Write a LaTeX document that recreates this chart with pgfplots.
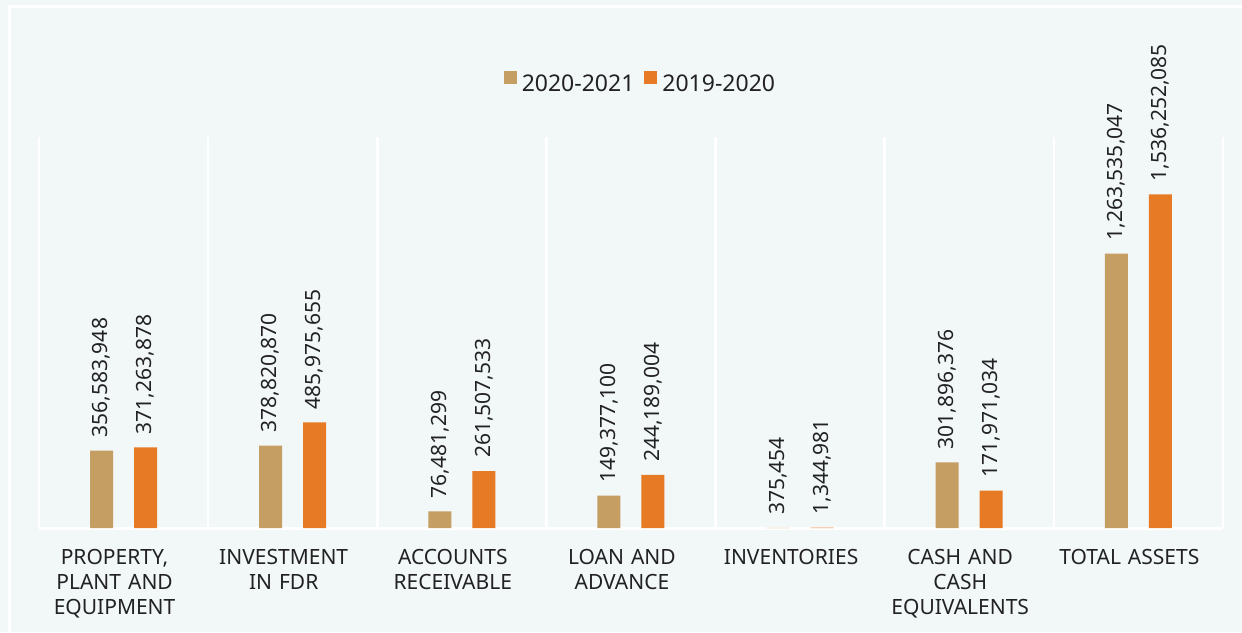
\documentclass[border=0pt]{standalone}
\usepackage{pgfplots}
\pgfplotsset{compat=1.18}
\usepackage{pgfplotstable}
\usepackage{fontspec}
\setmainfont{Noto Sans}
\definecolor{bgc}{HTML}{F2F7F8}
\definecolor{gold}{HTML}{C49E62}
\definecolor{orng}{HTML}{E77A25}
\definecolor{txt}{HTML}{222222}

% x: category index, a: 2020-2021, b: 2019-2020
\pgfplotstableread{
x a          b          la            lb
0 356583948  371263878  356,583,948   371,263,878
1 378820870  485975655  378,820,870   485,975,655
2 76481299   261507533  76,481,299    261,507,533
3 149377100  244189004  149,377,100   244,189,004
4 375454     1344981    375,454       1,344,981
5 301896376  171971034  301,896,376   171,971,034
6 1263535047 1536252085 1,263,535,047 1,536,252,085
}\assets

\begin{document}
\begin{tikzpicture}
\fill[bgc] (0,0) rectangle (1242pt,632pt);
\draw[white, line width=3pt] (9pt,0pt) -- (9pt,625pt) -- (1242pt,625pt);
\begin{axis}[
  at={(39pt,104pt)}, anchor=south west,
  scale only axis, width=1184pt, height=391pt,
  xmin=-0.5, xmax=6.5, ymin=0, ymax=1.8e9,
  clip=false,
  ybar,
  axis line style={draw=none},
  major tick length=0pt, minor tick length=0pt,
  xtick={0,...,6},
  xticklabels={{PROPERTY,\\PLANT AND\\EQUIPMENT},{INVESTMENT\\IN FDR},{ACCOUNTS\\RECEIVABLE},{LOAN AND\\ADVANCE},{INVENTORIES},{CASH AND\\CASH\\EQUIVALENTS},{TOTAL ASSETS}},
  xticklabel style={font=\fontsize{21}{25}\selectfont, text=txt, align=center, text width=170pt, yshift=-18pt, xshift=-9pt},
  ytick=\empty,
  minor xtick={-0.5,0.5,...,6.5},
  xminorgrids=true,
  minor x grid style={white, line width=2.5pt},
  extra y ticks={0}, extra y tick labels={},
  extra y tick style={ymajorgrids=true, major grid style={white, line width=3pt}},
  legend columns=2,
  legend style={at={(0.508,1.138)}, anchor=center, draw=none, fill=none,
    font=\fontsize{23}{27}\selectfont, text=txt,
    /tikz/every even column/.append style={column sep=8pt}},
  legend image code/.code={\fill[#1] (0pt,0pt) rectangle (13pt,13pt);},
  point meta=explicit symbolic,
  nodes near coords,
  every node near coord/.append style={rotate=90, anchor=west,
    font=\fontsize{21}{25}\selectfont, text=txt, inner xsep=13pt, inner ysep=0pt},
]
\addplot[fill=gold, draw=none, bar width=23pt, bar shift=-22pt]
  table[x=x, y=a, meta=la] {\assets};
\addlegendentry{\hspace{3pt}2020-2021}
\addplot[fill=orng, draw=none, bar width=23pt, bar shift=22pt]
  table[x=x, y=b, meta=lb] {\assets};
\addlegendentry{\hspace{3pt}2019-2020}
\end{axis}
\pgfresetboundingbox
\path (0,0) rectangle (1242pt,632pt);
\end{tikzpicture}
\end{document}
